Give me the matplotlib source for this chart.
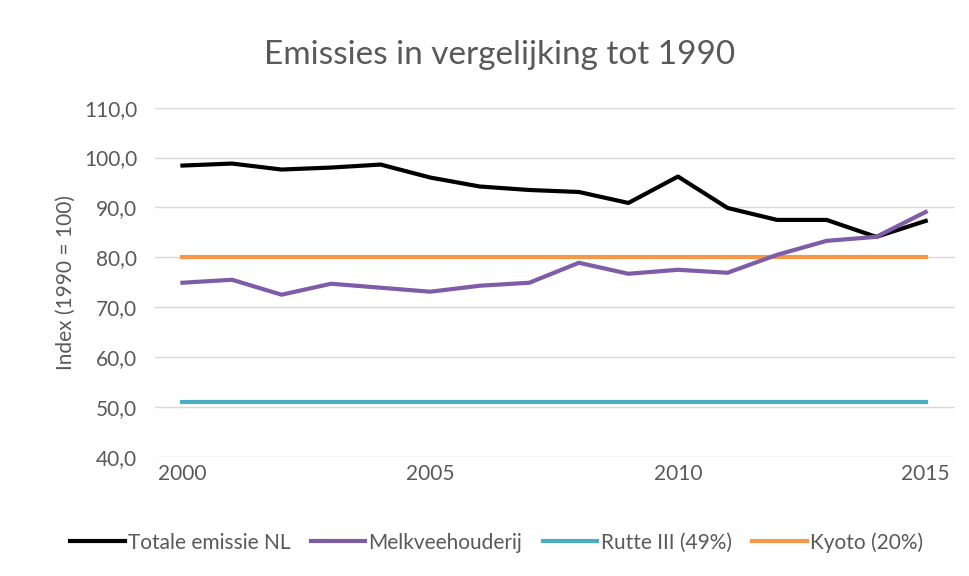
import matplotlib.pyplot as plt

jaren = list(range(2000, 2016))
totaal_nl = [98.4, 98.8, 97.6, 98.0, 98.6, 96.0, 94.2, 93.5, 93.1, 90.9,
             96.2, 89.9, 87.5, 87.5, 84.1, 87.3]
melkvee = [74.9, 75.5, 72.5, 74.7, 73.9, 73.1, 74.3, 74.9, 78.9, 76.7,
           77.5, 76.9, 80.5, 83.3, 84.1, 89.1]
rutte = [51.0] * len(jaren)
kyoto = [80.0] * len(jaren)

plt.rcParams['font.family'] = ['Lato', 'DejaVu Sans']
grijs = '#595959'

fig = plt.figure(figsize=(9.7, 5.76), dpi=100)
ax = fig.add_axes([0.16, 0.207, 0.825, 0.606])

ax.plot(jaren, totaal_nl, color='black', lw=3, label='Totale emissie NL', zorder=3)
ax.plot(jaren, melkvee, color='#7F5CA8', lw=3, label='Melkveehouderij', zorder=4)
ax.plot(jaren, rutte, color='#4BACC6', lw=3, label='Rutte III (49%)', zorder=2)
ax.plot(jaren, kyoto, color='#F79646', lw=3, label='Kyoto (20%)', zorder=2)

ax.set_ylim(40, 110)
ax.set_xlim(1999.45, 2015.6)
ax.set_yticks(range(40, 111, 10))
ax.set_yticklabels([f'{v},0' for v in range(40, 111, 10)])
ax.set_xticks([2000, 2005, 2010, 2015])
ax.grid(axis='y', color='#d9d9d9', lw=1)
ax.set_axisbelow(True)
for s in ax.spines.values():
    s.set_visible(False)
ax.tick_params(length=0, labelsize=15, colors=grijs, pad=5)
ax.tick_params(axis='y', pad=13)

ax.set_ylabel('Index (1990 = 100)', fontsize=15, color=grijs, labelpad=6)
fig.suptitle('Emissies in vergelijking tot 1990', fontsize=24, color=grijs,
             x=0.515, y=0.93)

fig.legend(loc='lower center', bbox_to_anchor=(0.512, 0.008), ncol=4, frameon=False,
           fontsize=15, labelcolor=grijs, handlelength=2.6, handletextpad=0.15,
           columnspacing=1.0)

plt.savefig('out.png', dpi=100)
